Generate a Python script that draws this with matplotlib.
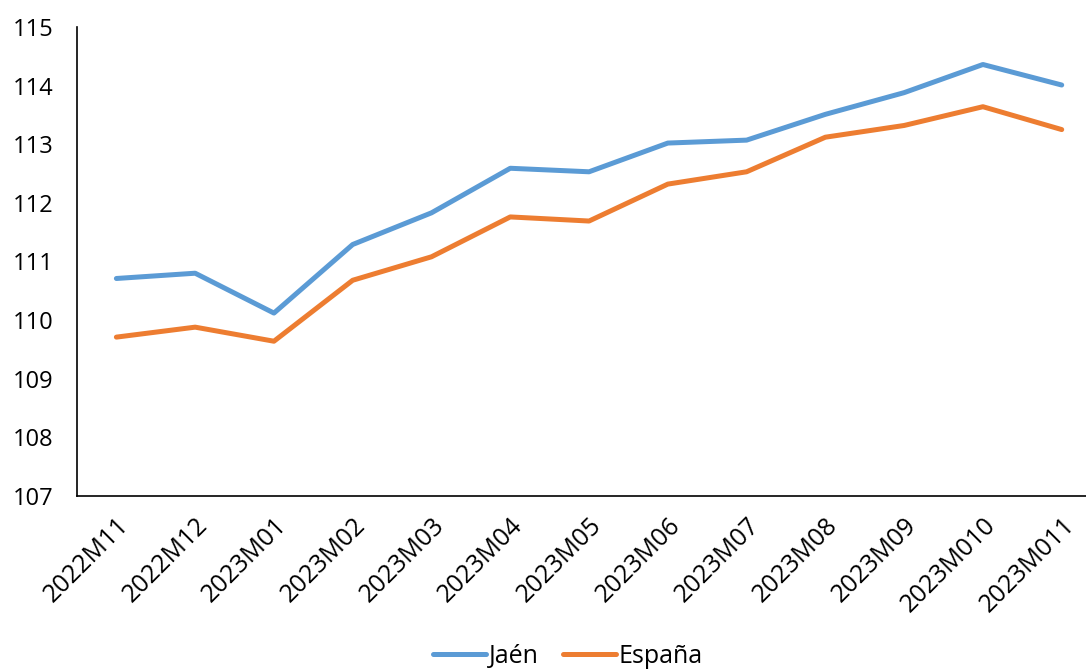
import matplotlib

matplotlib.use("Agg")

import matplotlib.pyplot as plt  # noqa: E402

# Values (índice, base 100).
months = ["2022M11", "2022M12", "2023M01", "2023M02", "2023M03", "2023M04", "2023M05",
          "2023M06", "2023M07", "2023M08", "2023M09", "2023M010", "2023M011"]
jaen = [110.71, 110.80, 110.12, 111.29, 111.83, 112.59, 112.53,
        113.02, 113.07, 113.51, 113.88, 114.36, 114.01]
espana = [109.71, 109.88, 109.64, 110.68, 111.08, 111.76, 111.69,
          112.32, 112.53, 113.12, 113.32, 113.64, 113.25]
y_ticks = list(range(107, 116))

BLUE = "#5B9BD5"
ORANGE = "#ED7D31"
FS = 18

plt.rcParams["font.family"] = ["Open Sans", "DejaVu Sans"]

fig = plt.figure(figsize=(10.86, 6.71), dpi=100)
# The category axis runs past the right edge of the picture, as in the original.
ax = fig.add_axes([0.0709, 0.2608, 0.943, 0.699])

x = range(len(months))
ax.plot(x, jaen, color=BLUE, lw=3.6, label="Jaén", solid_joinstyle="round",
        solid_capstyle="round")
ax.plot(x, espana, color=ORANGE, lw=3.6, label="España", solid_joinstyle="round",
        solid_capstyle="round")

ax.set_xlim(-0.5, len(months) - 0.5)
ax.set_ylim(107, 115)
ax.set_yticks(y_ticks)
ax.set_yticklabels([str(v) for v in y_ticks], fontsize=17)
ax.set_xticks(list(x))
ax.set_xticklabels(months, rotation=45, ha="right", rotation_mode="anchor", fontsize=FS)
ax.tick_params(axis="x", length=0, pad=12)
ax.tick_params(axis="y", length=0, pad=17)

for side in ("top", "right"):
    ax.spines[side].set_visible(False)
for side in ("left", "bottom"):
    ax.spines[side].set_color("black")
    ax.spines[side].set_linewidth(1.2)

fig.legend(loc="lower center", bbox_to_anchor=(0.523, -0.03), ncol=2, frameon=False,
           fontsize=FS, handlelength=2.1, handletextpad=0.1, columnspacing=1.0)

fig.savefig("out.png", dpi=100)
